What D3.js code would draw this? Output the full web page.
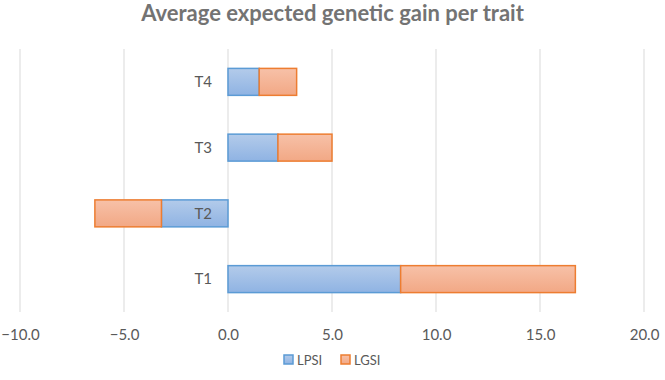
<!DOCTYPE html>
<html>
<head>
<meta charset="utf-8">
<script src="https://cdn.jsdelivr.net/npm/d3@7"></script>
<style>
  body { margin: 0; background: #fff; }
  text { font-family: Lato, "Open Sans", sans-serif; }
</style>
</head>
<body>
<svg id="chart" width="665" height="380"></svg>
<script>
// Chart data.
var traits = ["T1", "T2", "T3", "T4"];
var lpsi = [8.3, -3.2, 2.4, 1.5];
var lgsi = [8.4, -3.2, 2.6, 1.8];
var seriesNames = ["LPSI", "LGSI"];
var tickValues = [-10, -5, 0, 5, 10, 15, 20];

var svg = d3.select("#chart"),
    width = +svg.attr("width"),
    height = +svg.attr("height");

var margin = { top: 49, right: 21, bottom: 68, left: 20 };

var x = d3.scaleLinear()
          .domain([-10, 20])
          .range([margin.left, width - margin.right]);

// T1 at the bottom, T4 at the top.
var y = d3.scaleBand()
          .domain(traits.slice().reverse())
          .range([margin.top, height - margin.bottom])
          .paddingInner(0.59)
          .paddingOuter(0.295);

// Gradients that imitate the office-style fill.
var defs = svg.append("defs");
function addGradient(id, top, bottom) {
  var g = defs.append("linearGradient").attr("id", id)
              .attr("x1", 0).attr("y1", 0).attr("x2", 0).attr("y2", 1);
  g.append("stop").attr("offset", "0%").attr("stop-color", top);
  g.append("stop").attr("offset", "100%").attr("stop-color", bottom);
}
addGradient("gradBlue", "#b3cbea", "#8fb3e3");
addGradient("gradOrange", "#f7c1a8", "#f2a885");

var fills = ["url(#gradBlue)", "url(#gradOrange)"];
var strokes = ["#5b9bd5", "#ed7d31"];

// Title
svg.append("text")
   .attr("x", width / 2)
   .attr("y", 21)
   .attr("text-anchor", "middle")
   .attr("font-size", 22)
   .attr("font-weight", "bold")
   .attr("fill", "#737373")
   .text("Average expected genetic gain per trait");

// Vertical grid lines
svg.append("g").attr("class", "grid")
   .selectAll("line")
   .data(tickValues)
   .enter().append("line")
   .attr("x1", function(d) { return x(d); })
   .attr("x2", function(d) { return x(d); })
   .attr("y1", margin.top)
   .attr("y2", height - margin.bottom)
   .attr("stroke", "#d9d9d9")
   .attr("stroke-width", 1);

// Stack the two series per trait (negatives stack leftward).
var stacked = traits.map(function(t, i) {
  var vals = [lpsi[i], lgsi[i]];
  var posBase = 0, negBase = 0;
  return vals.map(function(v, s) {
    var x0, x1;
    if (v >= 0) { x0 = posBase; x1 = posBase + v; posBase = x1; }
    else { x0 = negBase; x1 = negBase + v; negBase = x1; }
    return { trait: t, series: s, x0: x0, x1: x1 };
  });
});

var bars = svg.append("g").attr("class", "bars");
stacked.forEach(function(segs) {
  bars.selectAll(null)
      .data(segs)
      .enter().append("rect")
      .attr("x", function(d) { return x(Math.min(d.x0, d.x1)); })
      .attr("y", function(d) { return y(d.trait); })
      .attr("width", function(d) { return Math.abs(x(d.x1) - x(d.x0)); })
      .attr("height", y.bandwidth())
      .attr("fill", function(d) { return fills[d.series]; })
      .attr("stroke", function(d) { return strokes[d.series]; })
      .attr("stroke-width", 1.5);
});

// Category labels, just left of the zero line.
svg.append("g").attr("class", "ylabels")
   .selectAll("text")
   .data(traits)
   .enter().append("text")
   .attr("x", x(0) - 16)
   .attr("y", function(d) { return y(d) + y.bandwidth() / 2; })
   .attr("dy", "0.35em")
   .attr("text-anchor", "end")
   .attr("font-size", 15)
   .attr("fill", "#595959")
   .text(function(d) { return d; });

// X axis tick labels
var xAxis = d3.axisBottom(x)
              .tickValues(tickValues)
              .tickFormat(d3.format(".1f"))
              .tickSize(0)
              .tickPadding(17);
var gx = svg.append("g")
            .attr("transform", "translate(0," + (height - margin.bottom) + ")")
            .call(xAxis);
gx.select(".domain").remove();
gx.selectAll("text")
  .attr("font-size", 15)
  .attr("fill", "#595959")
  .style("font-family", "Lato, 'Open Sans', sans-serif");

// Legend
var legend = svg.append("g").attr("class", "legend")
                .attr("transform", "translate(284,355)");
var legendX = [0, 57];
seriesNames.forEach(function(name, i) {
  var g = legend.append("g").attr("transform", "translate(" + legendX[i] + ",0)");
  g.append("rect")
   .attr("x", 0).attr("y", 0)
   .attr("width", 9).attr("height", 9)
   .attr("fill", fills[i])
   .attr("stroke", strokes[i])
   .attr("stroke-width", 1.5);
  g.append("text")
   .attr("x", 13)
   .attr("y", 5)
   .attr("dy", "0.35em")
   .attr("font-size", 13)
   .attr("fill", "#595959")
   .text(name);
});
</script>
</body>
</html>
